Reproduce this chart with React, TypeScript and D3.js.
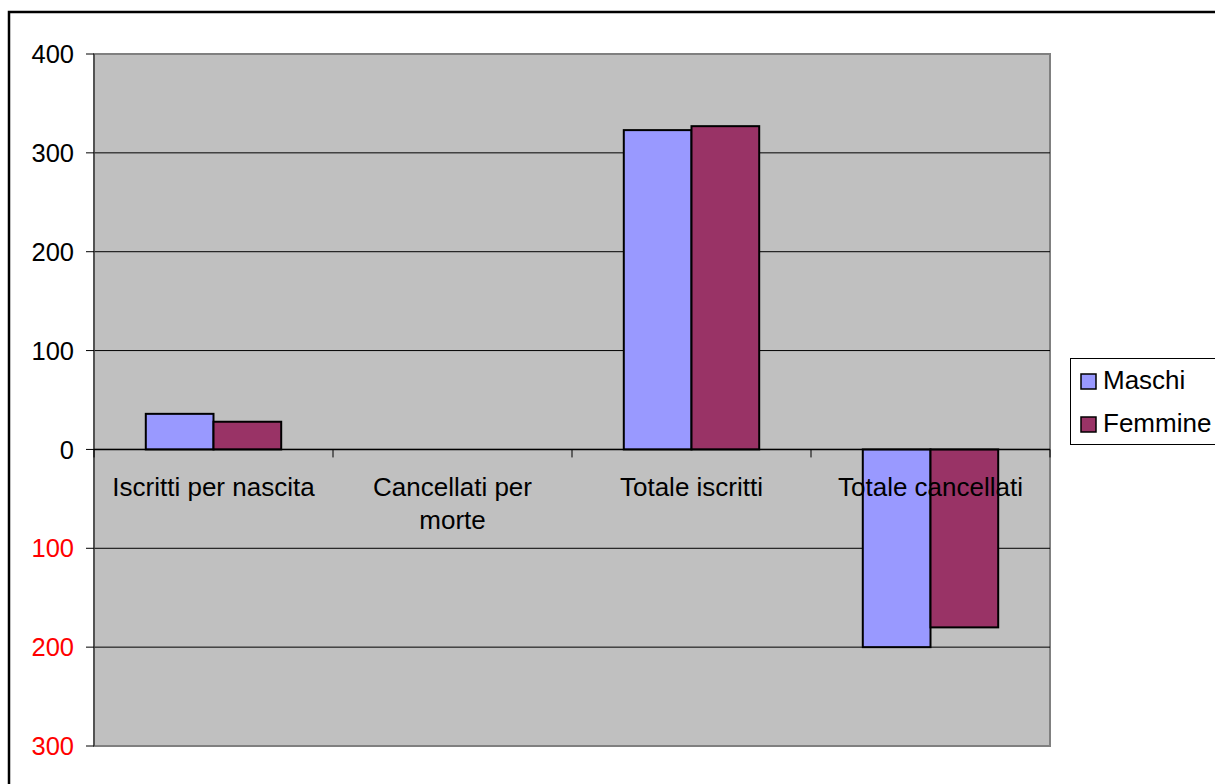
import React from 'react';
import * as d3 from 'd3';

const categories = ['Iscritti per nascita', 'Cancellati per morte', 'Totale iscritti', 'Totale cancellati'];
const categoryLines = [['Iscritti per nascita'], ['Cancellati per', 'morte'], ['Totale iscritti'], ['Totale cancellati']];
const seriesNames = ['Maschi', 'Femmine'];
const maschi = [36, 0, 323, -200];
const femmine = [28, 0, 327, -180];
const yTicks = [400, 300, 200, 100, 0, -100, -200, -300];
const colors = ['#9999FF', '#993366'];

const App: React.FC = () => {
  // plot area
  const left = 94;
  const right = 1050;
  const top = 54;
  const bottom = 746;
  const font = 'Liberation Sans, Arial, sans-serif';

  const x0 = d3.scaleBand().domain(categories).range([left, right]).padding(0);
  const x1 = d3
    .scaleBand()
    .domain(seriesNames)
    .range([0, x0.bandwidth()])
    .paddingInner(0)
    .paddingOuter(0.765);
  const y = d3.scaleLinear().domain([-300, 400]).range([bottom, top]);

  const values = [maschi, femmine];

  return (
    <svg width={1215} height={784} style={{ position: 'absolute', left: 0, top: 0 }} fontFamily={font}>
      <rect x={0} y={0} width={1215} height={784} fill="#fff" />
      {/* chart frame */}
      <rect x={9} y={12} width={1220} height={790} fill="none" stroke="#000" strokeWidth={2.5} />

      {/* plot area */}
      <rect x={left} y={top} width={right - left} height={bottom - top} fill="#C0C0C0" stroke="#808080" strokeWidth={2} />

      {/* gridlines */}
      {yTicks
        .filter(t => t !== 400 && t !== -300)
        .map(t => (
          <line key={t} x1={left} x2={right} y1={y(t)} y2={y(t)} stroke="#000" strokeWidth={1} />
        ))}

      {/* y axis */}
      <line x1={left} x2={left} y1={top} y2={bottom} stroke="#444" strokeWidth={1.5} />
      {yTicks.map(t => (
        <g key={t}>
          <line x1={left - 8} x2={left} y1={y(t)} y2={y(t)} stroke="#000" strokeWidth={1} />
          <text
            x={74}
            y={y(t)}
            dy="0.36em"
            textAnchor="end"
            fontSize={25.5}
            fill={t < 0 ? '#FF0000' : '#000'}
          >
            {Math.abs(t)}
          </text>
        </g>
      ))}

      {/* bars */}
      {categories.map((c, i) => (
        <g key={c}>
          {seriesNames.map((s, j) => {
            const v = values[j][i];
            if (v === 0) return null;
            const bx = x0(c)! + x1(s)!;
            return (
              <rect
                key={s}
                x={bx}
                y={y(Math.max(v, 0))}
                width={x1.bandwidth()}
                height={Math.abs(y(v) - y(0))}
                fill={colors[j]}
                stroke="#000"
                strokeWidth={2}
              />
            );
          })}
        </g>
      ))}

      {/* x axis at zero */}
      <line x1={left} x2={right} y1={y(0)} y2={y(0)} stroke="#000" strokeWidth={1.5} />
      {[...categories.map(c => x0(c)!), right].map((px, i) => (
        <line key={i} x1={px} x2={px} y1={y(0)} y2={y(0) + 8} stroke="#000" strokeWidth={1} />
      ))}
      {categories.map((c, i) => (
        <text key={c} x={x0(c)! + x0.bandwidth() / 2} y={496} textAnchor="middle" fontSize={26} fill="#000">
          {categoryLines[i].map((line, k) => (
            <tspan key={k} x={x0(c)! + x0.bandwidth() / 2} dy={k === 0 ? 0 : 33}>
              {line}
            </tspan>
          ))}
        </text>
      ))}

      {/* legend */}
      <rect x={1070.5} y={358.5} width={200} height={86} fill="#fff" stroke="#000" strokeWidth={1} />
      {seriesNames.map((s, j) => (
        <g key={s} transform={`translate(1081,${374 + j * 43})`}>
          <rect x={0} y={0} width={15} height={15} fill={colors[j]} stroke="#000" strokeWidth={1.5} />
          <text x={22} y={15} fontSize={26} fill="#000">
            {s}
          </text>
        </g>
      ))}
    </svg>
  );
};

export default App;
